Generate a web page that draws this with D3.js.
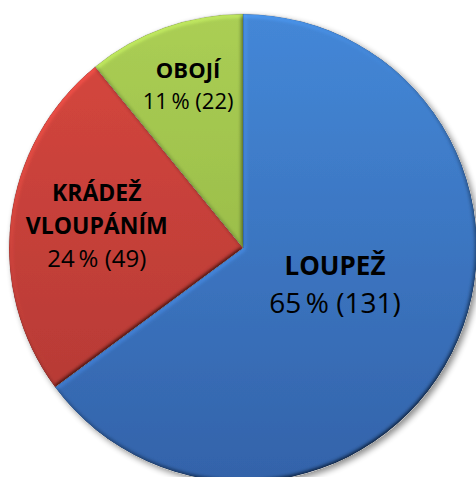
<!DOCTYPE html>
<html lang="cs">
<head>
  <meta charset="UTF-8" />
  <title>Loupež / krádež vloupáním</title>
  <script src="https://d3js.org/d3.v7.min.js"></script>
  <style>
    body { margin: 0; background: #fff; }
    svg { display: block; }
    .lbl { font-family: "Open Sans", "Noto Sans", sans-serif; fill: #000; text-anchor: middle; }
  </style>
</head>
<body>
  <svg width="476" height="477"></svg>
  <script>
    // data
    const categories = ["LOUPEŽ", "KRÁDEŽ VLOUPÁNÍM", "OBOJÍ"];
    const counts = [131, 49, 22];
    const percents = [65, 24, 11];

    // look
    const colors = [
      { top: "#4488d8", bottom: "#3363aa" },
      { top: "#d8473f", bottom: "#b03833" },
      { top: "#abcf55", bottom: "#8dae3f" }
    ];
    const labelPos = [0.44, 0.63, 0.70];   // fraction of radius for each label
    const labelDy = [0, 4, 0];
    const lineGap = [38, 33, 31];
    const titleSize = [26, 23, 22];
    const valueSize = [28, 24, 22];

    const svg = d3.select("svg");
    const cx = 243, cy = 248, r = 234;
    const defs = svg.append("defs");

    colors.forEach((c, i) => {
      const gr = defs.append("linearGradient")
        .attr("id", "grad" + i).attr("gradientUnits", "userSpaceOnUse")
        .attr("x1", 0).attr("y1", -r).attr("x2", 0).attr("y2", r);
      gr.append("stop").attr("offset", "0%").attr("stop-color", c.top);
      gr.append("stop").attr("offset", "100%").attr("stop-color", c.bottom);
    });

    const shadow = defs.append("filter").attr("id", "shadow")
      .attr("x", "-10%").attr("y", "-10%").attr("width", "130%").attr("height", "130%");
    shadow.append("feGaussianBlur").attr("in", "SourceAlpha").attr("stdDeviation", 3);
    shadow.append("feOffset").attr("dx", 3).attr("dy", 3).attr("result", "b");
    shadow.append("feComponentTransfer").append("feFuncA").attr("type", "linear").attr("slope", 0.45);
    const merge = shadow.append("feMerge");
    merge.append("feMergeNode");
    merge.append("feMergeNode").attr("in", "SourceGraphic");

    // soft bevel lit from the upper left
    const bevel = defs.append("filter").attr("id", "bevel")
      .attr("x", "-5%").attr("y", "-5%").attr("width", "110%").attr("height", "110%");
    bevel.append("feGaussianBlur").attr("in", "SourceAlpha").attr("stdDeviation", 2.2).attr("result", "blur");
    bevel.append("feDiffuseLighting").attr("in", "blur").attr("surfaceScale", 2.5)
      .attr("diffuseConstant", 1).attr("lighting-color", "#fff").attr("result", "light")
      .append("feDistantLight").attr("azimuth", 235).attr("elevation", 50);
    bevel.append("feComposite").attr("in", "SourceGraphic").attr("in2", "light")
      .attr("operator", "arithmetic").attr("k1", 1.3).attr("k2", 0).attr("k3", 0).attr("k4", 0)
      .attr("result", "lit");
    bevel.append("feComposite").attr("in", "lit").attr("in2", "SourceAlpha").attr("operator", "in");

    const pie = d3.pie().sort(null).value(d => d)(counts);
    const arc = d3.arc().innerRadius(0).outerRadius(r);

    const g = svg.append("g").attr("transform", `translate(${cx},${cy})`);

    g.append("circle").attr("r", r).attr("fill", "#fff").attr("filter", "url(#shadow)");

    const slices = g.selectAll(".slice")
      .data(pie)
      .join("g")
      .attr("class", "slice");

    slices.append("path")
      .attr("d", arc)
      .attr("fill", (d, i) => `url(#grad${i})`)
      .attr("filter", "url(#bevel)");

    slices.append("path")
      .attr("d", arc)
      .attr("fill", "none")
      .attr("stroke", "rgba(0,0,0,0.2)")
      .attr("stroke-width", 0.7);

    slices.each(function (d, i) {
      const a = (d.startAngle + d.endAngle) / 2;
      const rr = r * labelPos[i];
      const x = Math.sin(a) * rr, y = -Math.cos(a) * rr + labelDy[i];
      const words = i === 1 ? ["KRÁDEŽ", "VLOUPÁNÍM"] : [categories[i]];
      const n = words.length + 1;
      const t = d3.select(this).append("text").attr("class", "lbl");
      const y0 = y - (n - 1) * lineGap[i] / 2;
      words.forEach((w, k) => {
        t.append("tspan").attr("x", x).attr("y", y0 + k * lineGap[i])
          .attr("font-weight", "bold").attr("font-size", titleSize[i]).text(w);
      });
      t.append("tspan").attr("x", x).attr("y", y0 + words.length * lineGap[i])
        .attr("font-size", valueSize[i])
        .text(`${percents[i]}\u2009% (${counts[i]})`);
    });
  </script>
</body>
</html>
